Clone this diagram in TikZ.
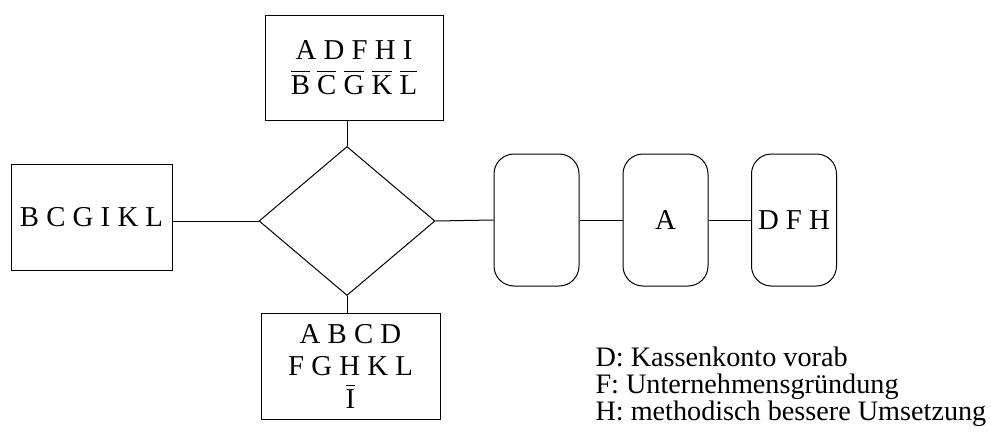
\documentclass[tikz,border=0pt]{standalone}
\usepackage{fontspec}
\setmainfont{Liberation Serif}
\usetikzlibrary{shapes.geometric}
\newcommand{\ovl}[1]{$\overline{\mbox{#1}\rule{0pt}{10pt}}$}

\begin{document}
\begin{tikzpicture}[x=0.5pt, y=-0.5pt, line width=0.5pt,
    every node/.style={font=\fontsize{14.4}{16.25}\selectfont},
    box/.style={draw, rectangle, align=center, inner sep=0pt},
    rbox/.style={draw, rounded corners=10pt, minimum width=42.5pt, minimum height=66pt, inner sep=0pt},
    legend/.style={anchor=base west, inner sep=0pt, font=\fontsize{14.1}{16}\selectfont}]

    \useasboundingbox (0,0) rectangle (991,439);

    % Decision diamond
    \node[draw, diamond, minimum width=88pt, minimum height=74.5pt, inner sep=0pt] (dia) at (347,221) {};

    % Boxes around the diamond
    \node[box, minimum width=89pt, minimum height=52.5pt] (top) at (354,67.5)
        {A D F H I\\[1.25pt] \ovl{B} \ovl{C} \ovl{G} \ovl{K} \ovl{L}};
    \node[box, minimum width=80.5pt, minimum height=53pt] (left) at (91.5,217) {B C G I K L};
    \node[box, minimum width=89.5pt, minimum height=53pt] (bot) at (350.5,366)
        {A B C D\\ F G H K L\\ \ovl{I}};

    % Chain on the right
    \node[rbox] (r1) at (536.5,220) {};
    \node[rbox] (r2) at (665.5,220) {A};
    \node[rbox] (r3) at (794,220) {D F H};

    % Connectors
    \draw (dia.north) -- (dia.north |- top.south);
    \draw (dia.south) -- (dia.south |- bot.north);
    \draw (dia.west) -- (dia.west -| left.east);
    \draw (dia.east) -- (r1.west);
    \draw (r1.east) -- (r2.west);
    \draw (r2.east) -- (r3.west);

    % Legend
    \node[legend] (legD) at (595,366) {D: Kassenkonto vorab};
    \node[legend] (legF) at (595,393) {F: Unternehmensgründung};
    \node[legend] (legH) at (595,420) {H: methodisch bessere Umsetzung};

\end{tikzpicture}
\end{document}
